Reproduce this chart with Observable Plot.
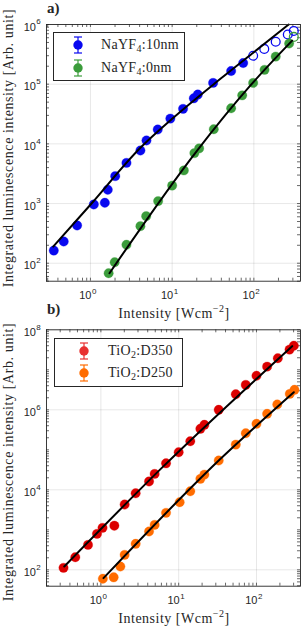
<!DOCTYPE html>
<html><head><meta charset="utf-8">
<script src="https://cdn.jsdelivr.net/npm/d3@7"></script>
<script src="https://cdn.jsdelivr.net/npm/@observablehq/plot@0.6"></script>
<style>
body{margin:0;background:#fff;}
#wrap{position:relative;width:306px;height:630px;overflow:hidden;color:#262626;font-family:"Liberation Serif",serif;}
.panel{position:absolute;left:0;}
.abs{position:absolute;white-space:nowrap;}
.plab{font-weight:bold;font-size:15px;}
.ylab{font-size:14px;letter-spacing:0.6px;transform:translate(-50%,-50%) rotate(-90deg);}
.xlab{font-size:14px;letter-spacing:0.5px;transform:translate(-50%,-50%);}
.xlab sup{font-size:10px;vertical-align:6px;line-height:0;}
.leg{border:1px solid #262626;background:#fff;box-sizing:border-box;}
.legtxt{font-size:14px;letter-spacing:0.3px;transform:translateY(-50%);}
.legtxt sub{font-size:10px;vertical-align:-3px;line-height:0;}
</style></head>
<body><div id="wrap"></div>
<script>
// ---------- data (panel a) ----------
const nay10X = [0.356, 0.471, 0.687, 1.10, 1.50, 1.63, 2.01, 2.76, 4.09, 4.85, 6.66, 9.5, 13.6, 18.4, 20.6, 31.7, 52.7, 74];
const nay10Y = [163, 231, 430, 966, 1030, 1700, 2880, 4800, 7730, 11400, 17400, 26500, 38600, 58000, 67000, 105000, 166000, 226000];
const nay10OpenX = [98, 134, 185, 260, 308];
const nay10OpenY = [300000, 390000, 515000, 680000, 780000];
const nay0X = [1.67, 1.98, 2.76, 4.09, 4.81, 6.74, 10, 13.9, 18.7, 21.4, 32.3, 52.7, 72, 98, 135, 185, 270];
const nay0Y = [68, 104, 204, 418, 615, 1100, 2000, 3590, 7000, 8400, 17600, 39500, 65000, 105000, 174000, 290000, 480000];
const nay0OpenX = [308];
const nay0OpenY = [620000];
const fit10X = [0.35, 1.0, 4.09, 10, 39, 100, 267];
const fit10Y = [190, 955, 8600, 26300, 123000, 344000, 1000000];
const fit0X = [1.71, 20.2, 90.8, 294];
const fit0Y = [68, 7730, 95500, 537000];
// ---------- data (panel b) ----------
const d350X = [0.331, 0.469, 0.683, 0.891, 1.05, 1.49, 2.02, 2.80, 4.16, 4.91, 6.88, 10.0, 14.1, 19.0, 21.4, 32.7, 54.2, 72.8, 100, 137, 188, 266, 302];
const d350Y = [112, 207, 420, 794, 1120, 1270, 4300, 8200, 16200, 25000, 46000, 87000, 164000, 335000, 422000, 1.0e6, 2.45e6, 4.2e6, 7.1e6, 1.2e7, 1.95e7, 3.2e7, 4.0e7];
const d250X = [1.06, 1.46, 1.78, 2.02, 2.80, 4.16, 4.91, 6.88, 10.3, 14.1, 19.0, 21.4, 32.7, 54.2, 72.8, 100, 137, 185, 268, 308];
const d250Y = [60, 65, 121, 237, 447, 910, 1330, 2660, 4900, 9200, 18800, 24000, 54000, 135000, 260000, 447000, 794000, 1.36e6, 2.5e6, 3.16e6];
const fit350X = [0.338, 6.3, 288];
const fit350Y = [121, 38000, 3.9e7];
const fit250X = [1.08, 32.7, 302];
const fit250Y = [62, 54000, 2.75e6];
// ---------- tick labels ----------
const xMajorA = [1, 10, 100];
const yMajorA = [1e2, 1e3, 1e4, 1e5, 1e6];
const xMajorB = [1, 10, 100];
const yMajorB = [1e2, 1e4, 1e6, 1e8];

const BLUE = "#0808f0", GREEN = "#3b9c3b", RED = "#dc0000", ORANGE = "#ff6c00";
const SANS = "Liberation Sans, Arial, sans-serif";
const zip = (xs, ys) => xs.map((x, i) => ({x, y: ys[i]}));

function allTicks([lo, hi]) {
  const out = [];
  for (let e = Math.floor(Math.log10(lo)); e <= Math.ceil(Math.log10(hi)); e++)
    for (let k = 1; k < 10; k++) { const v = k * 10 ** e; if (v >= lo && v <= hi) out.push(v); }
  return out;
}

function makePanel(cfg) {
  const W = 306, ML = 46, MR = 6;
  const innerW = W - ML - MR, innerH = cfg.height - cfg.mt - cfg.mb;
  const tl = 3;
  const xt = allTicks(cfg.xDomain), yt = allTicks(cfg.yDomain);
  const tk = {stroke: "#262626", strokeWidth: 0.7};
  const exp = d => String(Math.round(Math.log10(d)));
  return Plot.plot({
    width: W, height: cfg.height, marginLeft: ML, marginRight: MR, marginTop: cfg.mt, marginBottom: cfg.mb,
    style: {background: "transparent", overflow: "visible"},
    x: {type: "log", domain: cfg.xDomain, axis: null},
    y: {type: "log", domain: cfg.yDomain, axis: null},
    marks: [
      Plot.gridX(cfg.xMajor, {stroke: "#000", strokeOpacity: 0.12, strokeWidth: 0.8}),
      Plot.gridY(cfg.yMajor, {stroke: "#000", strokeOpacity: 0.12, strokeWidth: 0.8}),
      Plot.tickX(xt, {x: d => d, insetTop: innerH - tl, ...tk}),
      Plot.tickX(xt, {x: d => d, insetBottom: innerH - tl, ...tk}),
      Plot.tickY(yt, {y: d => d, insetRight: innerW - tl, ...tk}),
      Plot.tickY(yt, {y: d => d, insetLeft: innerW - tl, ...tk}),
      ...cfg.series.map(s => s.open
        ? Plot.dot(s.data, {x: "x", y: "y", r: 4.4, stroke: s.color, strokeWidth: 1.3, fill: "none"})
        : Plot.dot(s.data, {x: "x", y: "y", r: 4.7, fill: s.color, stroke: s.color, strokeWidth: 0.3})),
      ...cfg.fits.map(f => Plot.line(f, {x: "x", y: "y", curve: "monotone-x", stroke: "#000", strokeWidth: 2})),
      Plot.frame({stroke: "#262626", strokeWidth: 0.9}),
      Plot.text(cfg.xMajor, {x: d => d, frameAnchor: "bottom", text: () => "10", textAnchor: "end", dx: 1, dy: 17.8, fontSize: 11, fontFamily: SANS, fill: "#262626"}),
      Plot.text(cfg.xMajor, {x: d => d, frameAnchor: "bottom", text: exp, textAnchor: "start", dx: 1.5, dy: 12.6, fontSize: 8, fontFamily: SANS, fill: "#262626"}),
      Plot.text(cfg.yMajor, {y: d => d, frameAnchor: "left", text: () => "10", textAnchor: "end", dx: -10.5, dy: 2.5, fontSize: 11, fontFamily: SANS, fill: "#262626"}),
      Plot.text(cfg.yMajor, {y: d => d, frameAnchor: "left", text: exp, textAnchor: "start", dx: -10.3, dy: -2.8, fontSize: 8, fontFamily: SANS, fill: "#262626"})
    ]
  });
}

const wrap = document.getElementById("wrap");

const pa = makePanel({
  height: 330, mt: 24, mb: 49.3,
  xDomain: [0.29, 372], yDomain: [50, 1e6],
  xMajor: xMajorA, yMajor: yMajorA,
  series: [
    {data: zip(nay10X, nay10Y), color: BLUE},
    {data: zip(nay10OpenX, nay10OpenY), color: BLUE, open: true},
    {data: zip(nay0X, nay0Y), color: GREEN},
    {data: zip(nay0OpenX, nay0OpenY), color: GREEN, open: true}
  ],
  fits: [zip(fit10X, fit10Y), zip(fit0X, fit0Y)]
});
pa.classList.add("panel"); pa.style.top = "0px";
wrap.appendChild(pa);

const pb = makePanel({
  height: 330, mt: 29.3, mb: 44.3,
  xDomain: [0.2, 368], yDomain: [39, 1e8],
  xMajor: xMajorB, yMajor: yMajorB,
  series: [
    {data: zip(d350X, d350Y), color: RED},
    {data: zip(d250X, d250Y), color: ORANGE}
  ],
  fits: [zip(fit350X, fit350Y), zip(fit250X, fit250Y)]
});
pb.classList.add("panel"); pb.style.top = "300px";
wrap.appendChild(pb);

function marker(color, cx, cy) {
  return `<svg class="abs" style="left:${cx - 6}px;top:${cy - 10}px" width="12" height="20">
    <line x1="6" y1="2" x2="6" y2="18" stroke="${color}" stroke-width="1.2"/>
    <line x1="2" y1="2" x2="10" y2="2" stroke="${color}" stroke-width="1.2"/>
    <line x1="2" y1="18" x2="10" y2="18" stroke="${color}" stroke-width="1.2"/>
    <circle cx="6" cy="10" r="4.7" fill="${color}"/></svg>`;
}

const yLabel = "Integrated luminescence intensity [Arb. unit]";
const xLabel = "Intensity [Wcm<sup>\u22122</sup>]";
const html = `
<div class="abs plab" style="left:47px;top:0px">a)</div>
<div class="abs plab" style="left:47px;top:301px">b)</div>
<div class="abs ylab" style="left:8.5px;top:148px">${yLabel}</div>
<div class="abs ylab" style="left:8.5px;top:462px">${yLabel}</div>
<div class="abs xlab" style="left:174px;top:314px">${xLabel}</div>
<div class="abs xlab" style="left:174px;top:619px">${xLabel}</div>
<div class="abs leg" style="left:52.5px;top:32px;width:132px;height:49px"></div>
${marker(BLUE, 77.7, 45)}
${marker(GREEN, 77.7, 68.3)}
<div class="abs legtxt" style="left:101px;top:45px">NaYF<sub>4</sub>:10nm</div>
<div class="abs legtxt" style="left:101px;top:68.3px">NaYF<sub>4</sub>:0nm</div>
<div class="abs leg" style="left:54.3px;top:337.7px;width:128.5px;height:49px"></div>
${marker("#e83030", 83.5, 351)}
${marker(ORANGE, 83.5, 373)}
<div class="abs legtxt" style="left:108px;top:351px">TiO<sub>2</sub>:D350</div>
<div class="abs legtxt" style="left:108px;top:373px">TiO<sub>2</sub>:D250</div>
`;
wrap.insertAdjacentHTML("beforeend", html);
</script>
</body></html>
